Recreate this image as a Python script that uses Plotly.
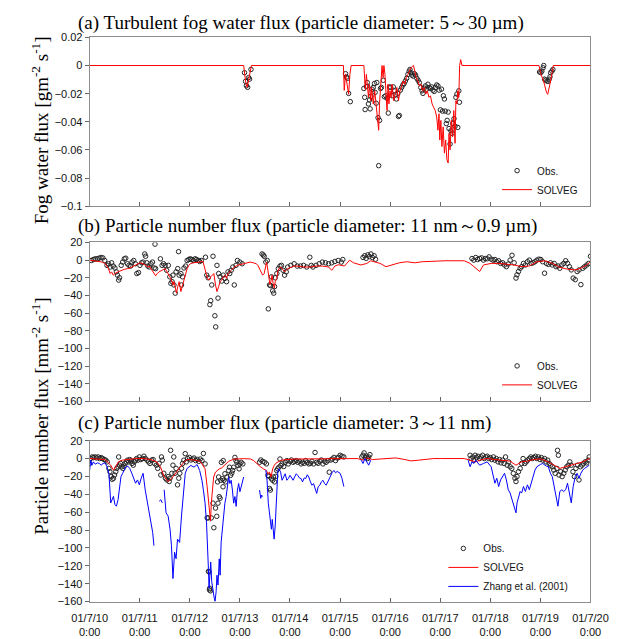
import plotly.graph_objects as go

W, H = 633, 639

# ---------------- data (time = hours since 01/7/10 0:00) ----------------
day_ticks = [0, 24, 48, 72, 96, 120, 144, 168, 192, 216, 240]
day_labels = ["01/7/10", "01/7/11", "01/7/12", "01/7/13", "01/7/14",
              "01/7/15", "01/7/16", "01/7/17", "01/7/18", "01/7/19", "01/7/20"]

# (a) fog water flux
a_obs_t = [74.2, 74.7, 75.1, 75.7, 76.2, 76.6, 77.3,
           122.6, 123.1, 123.5, 124.1, 124.9,
           131.4, 131.8, 132.0, 132.6, 133.0, 133.6, 134.1, 134.4, 134.8, 135.3, 135.9, 136.5, 136.8, 137.3,
           137.6, 138.2, 138.5, 138.9, 139.4, 139.8, 140.7, 141.2, 141.9, 142.5, 143.1, 143.7, 144.3, 144.9,
           145.5, 146.1, 146.6, 147.0, 147.7, 148.0, 148.4, 148.9, 149.5, 150.1, 150.7, 151.3, 151.9, 152.5,
           153.1, 153.5, 154.0, 154.4, 155.0, 155.6, 156.2, 156.8, 157.4, 158.0, 158.7, 159.3, 159.7, 160.3,
           160.9, 161.5, 162.1, 162.7, 163.3, 163.9, 164.5, 165.1, 165.7, 166.3, 166.9, 167.5, 168.1, 168.6,
           169.1, 169.5, 170.0, 170.4, 170.9, 171.3, 171.8, 172.2, 172.7, 173.1, 173.6, 174.0, 174.6, 175.1,
           175.5, 176.0, 176.4, 176.9, 177.2,
           215.6, 216.2, 216.7, 217.3, 217.6, 218.0, 218.5, 219.1, 219.7, 220.2, 220.6, 220.9, 221.5, 222.0]
a_obs_v = [-0.0051, -0.0113, -0.0144, -0.0155, -0.0086, -0.0097, -0.0028,
           -0.0058, -0.0082, -0.0091, -0.0198, -0.0257,
           -0.0163, -0.0226, -0.0313, -0.0149, -0.0121, -0.0273, -0.0245, -0.0308, -0.0219, -0.0168, -0.0156, -0.0128, -0.0191, -0.0268,
           -0.0121, -0.0371, -0.0712, -0.0390, -0.0163, -0.0156, -0.0105, -0.0222, -0.0215, -0.0233, -0.0338, -0.0152, -0.0156, -0.0215,
           -0.0152, -0.0180, -0.0208, -0.0238, -0.0198, -0.0362, -0.0355, -0.0175, -0.0156, -0.0138, -0.0128, -0.0110, -0.0091, -0.0063,
           -0.0040, -0.0028, -0.0051, -0.0068, -0.0075, -0.0058, -0.0068, -0.0091, -0.0105, -0.0121, -0.0156, -0.0180, -0.0198, -0.0161,
           -0.0145, -0.0168, -0.0133, -0.0156, -0.0163, -0.0152, -0.0175, -0.0184, -0.0156, -0.0138, -0.0145, -0.0175, -0.0315, -0.0168,
           -0.0324, -0.0215, -0.0238, -0.0324, -0.0413, -0.0390, -0.0331, -0.0448, -0.0558, -0.0464, -0.0483, -0.0413, -0.0378, -0.0432,
           -0.0226, -0.0203, -0.0440, -0.0180, -0.0261,
           -0.0046, -0.0050, -0.0040, -0.0016, 0.0000, -0.0097, -0.0104, -0.0110, -0.0113, -0.0097, -0.0080, -0.0051, -0.0040, -0.0028]

a_sol_t = [0, 73.8, 74.4, 74.9, 75.5, 76.0, 76.6, 77.1, 77.5,
           121.6, 122.0, 122.6, 123.5, 124.1, 124.7, 125.3, 131.4, 131.7, 132.1, 132.6, 133.2, 133.6, 134.1,
           134.7, 135.1, 135.9, 136.6, 137.4, 138.0, 138.5, 138.9, 139.4, 139.8, 140.1, 140.6, 141.0, 141.5,
           141.9, 142.5, 143.0, 143.4, 143.9, 144.5, 144.9, 145.7, 146.4, 147.2, 148.0, 148.7, 149.5, 150.2,
           151.0, 151.7, 152.5, 153.2, 154.0, 154.7, 155.2, 155.8, 156.5, 157.3, 158.0, 158.8, 159.5, 160.3,
           161.1, 161.8, 162.6, 163.3, 164.1, 164.8, 165.6, 166.3, 166.9, 167.4, 167.8, 168.3, 168.8, 169.4,
           170.0, 170.6, 171.2, 171.8, 172.2, 172.7, 173.3, 173.9, 174.5, 175.1, 175.5, 176.0, 176.4, 176.9,
           177.3, 177.8, 178.4,
           215.3, 215.8, 216.5, 217.3, 218.0, 218.9, 219.5, 220.2, 220.9, 221.7, 222.2, 240]
a_sol_v = [0, 0, -0.0074, -0.0130, -0.0155, -0.0110, -0.0074, -0.0016, 0,
           0, -0.0177, -0.0063, -0.0145, -0.0204, -0.0063, 0, 0, -0.0110, -0.0168, -0.0063, -0.0145, -0.0226, -0.0133,
           -0.0250, -0.0156, -0.0273, -0.0180, -0.0296, -0.0378, -0.0460, -0.0273, -0.0180, -0.0110, 0, -0.0086, 0, -0.0063,
           -0.0203, -0.0320, -0.0133, -0.0273, -0.0180, -0.0226, -0.0133, -0.0250, -0.0203, -0.0156, -0.0250, -0.0180, -0.0145, -0.0110,
           -0.0133, -0.0086, -0.0063, -0.0040, -0.0016, -0.0005, 0, -0.0040, -0.0086, -0.0110, -0.0145, -0.0133, -0.0180, -0.0156,
           -0.0203, -0.0180, -0.0226, -0.0215, -0.0273, -0.0296, -0.0320, -0.0366, -0.0460, -0.0343, -0.0530, -0.0390, -0.0576, -0.0436,
           -0.0623, -0.0530, -0.0670, -0.0693, -0.0483, -0.0600, -0.0390, -0.0506, -0.0320, -0.0553, -0.0250, -0.0273, -0.0180, -0.0226,
           0, 0.0042, 0,
           0, -0.0040, -0.0074, -0.0097, -0.0144, -0.0190, -0.0205, -0.0167, -0.0110, -0.0040, 0, 0]

# (b) particle number flux 11 nm - 0.9 um
b_obs_t = [0.8, 1.8, 2.7, 3.6, 4.5, 5.4, 6.3, 7.2, 8.3, 9.0, 9.8, 10.5, 11.3, 12.1, 12.8, 13.3, 13.9, 14.3,
           15.1, 15.8, 16.6, 17.3, 18.1, 18.8, 19.6, 20.3, 21.1, 21.9, 22.6, 23.4, 24.1, 24.9, 25.6, 26.4,
           26.8, 27.4, 27.9, 28.6, 29.4, 30.1, 30.9, 31.3, 31.6, 33.9, 34.7, 35.4, 36.2, 36.9, 37.7, 38.4,
           38.9, 39.5, 39.9, 40.4, 41.0, 41.4, 42.2, 42.6, 42.9, 43.7, 44.0, 44.5, 45.2, 46.0, 46.7, 47.5,
           48.2, 49.0, 49.7, 50.5, 51.2, 52.0, 52.7, 53.5, 55.5, 56.1, 56.8, 57.6, 58.0, 58.5, 59.1, 60.0,
           60.4, 61.0, 61.5, 61.8, 62.5, 63.3, 64.0, 64.8, 65.6, 66.3, 67.1, 67.8, 68.6, 69.3, 70.1, 70.8,
           72.0, 73.1, 82.6, 83.2, 83.6, 84.4, 85.1, 85.6, 86.2, 86.7, 87.1, 87.7, 88.2, 88.6, 88.9, 89.7,
           90.4, 91.2, 91.9, 92.7, 93.4, 94.2, 94.9, 96.4, 98.0, 99.5, 101.0, 102.5, 104.0, 105.5, 106.2,
           107.0, 108.5, 110.0, 111.5, 113.0, 114.5, 116.0, 117.5, 119.1, 120.6, 121.3,
           131.0, 131.8, 132.5, 133.3, 134.0, 134.8, 135.5, 136.3, 137.0,
           183.2, 184.1, 185.0, 185.9, 186.9, 187.8, 188.7, 189.6, 190.5, 191.4, 192.4, 193.3, 194.2, 195.1,
           196.0, 196.9, 197.9, 198.8, 199.7, 200.6, 201.5, 202.4, 203.4, 204.3, 204.8, 205.5, 206.3, 207.0,
           207.9, 208.8, 209.8, 210.7, 211.6, 212.5, 213.4, 214.3, 215.3, 216.2, 217.1, 218.0, 218.9, 219.8,
           220.8, 221.7, 222.6, 223.5, 224.4, 225.3, 226.3, 227.2, 228.1, 229.0, 229.9, 230.8, 231.7, 232.7,
           233.6, 234.5, 235.4, 236.3, 237.2, 238.2, 239.1, 240.0]
b_obs_v = [-0.4, 0.7, 1.5, 1.5, 2.2, 3.0, 2.6, -0.4, -5.9, -4.1, -7.8, -3.0, -6.7, -8.9, -13.3, -17.0, -22.6, -20.0,
           -5.9, -2.2, 1.5, 2.2, -4.1, -5.9, -6.7, -2.2, -0.4, -4.1, -15.2, -14.1, -5.9, -3.0, -2.2, 7.0,
           4.4, -3.0, -6.7, -7.8, -4.1, -2.2, -8.9, 18.1, -9.6, 1.5, -5.9, -4.1, -5.9, -11.5, -5.9, -18.9,
           -26.3, -24.4, -17.0, -28.1, -37.4, -13.3, -9.6, 9.6, -17.0, -15.2, -28.1, -18.9, -8.9, -6.7, -0.4, 0.7,
           1.5, 0.7, -0.4, 1.5, 0.7, -0.4, -1.5, -0.4, 3.3, -17.0, -20.0, -50.4, -45.9, -28.1, 4.4, -63.0,
           -75.6, -5.9, -43.0, -15.2, -18.9, -23.7, -17.0, -20.7, -24.4, -13.3, -15.2, -11.5, -7.8, -28.1, -5.9, -0.4,
           -2.2, -4.1, 7.0, 5.9, 4.4, -2.2, -0.4, -55.2, -28.1, -28.9, -18.9, -34.8, -37.4, -30.0, -20.0, -15.2,
           -9.6, -6.7, -5.9, -11.5, -17.0, -13.3, -7.8, -5.9, -4.1, -6.7, -6.7, -5.9, -7.8, 3.3, -5.9,
           -7.8, -5.9, -4.1, -2.2, -3.0, -4.1, -3.0, -1.5, -0.4, -2.2, 0.7,
           3.0, 5.0, 2.0, 6.0, 4.0, 7.0, 3.0, 5.0, 1.0,
           1.8, 0.0, 3.0, 0.7, 1.8, 2.6, 0.0, 1.8, 1.5, 3.7, 1.1, 0.0, 0.7, -1.8,
           -0.7, -3.7, -3.0, -5.5, -7.4, -4.4, 0.0, 5.5, -3.0, -20.3, -16.6, -12.9, -9.2, -7.4,
           -3.7, -5.5, -1.8, 0.0, -3.7, -3.0, -1.8, 0.0, 1.1, 0.7, -1.8, -14.8, -3.7, -4.8,
           -3.0, -5.5, -3.7, -7.4, -6.6, -9.2, -5.5, -3.7, -0.7, -3.7, -7.4, -11.1, -20.3, -22.1,
           -12.9, -11.1, -27.7, -9.2, -7.4, -5.5, -3.7, 4.4]

b_sol_t = [0, 6.0, 7.5, 9.0, 9.8, 10.5, 11.3, 12.1, 13.6, 15.1, 16.6, 18.1, 19.6, 21.1, 22.6, 24.1, 25.6,
           27.1, 27.9, 28.6, 29.4, 30.9, 31.6, 32.4, 33.2, 34.7, 36.2, 36.9, 37.7, 38.4, 39.2, 39.9, 40.4,
           41.0, 41.6, 42.2, 42.9, 43.7, 44.5, 45.2, 46.0, 46.7, 47.5, 48.2, 49.7, 51.2, 52.7, 54.3, 55.0,
           55.8, 56.5, 57.3, 58.0, 58.8, 59.5, 60.3, 61.0, 61.8, 62.5, 63.3, 64.0, 64.8, 65.6, 66.3, 67.1,
           67.8, 69.3, 70.8, 72.3, 73.8, 75.4, 76.9, 78.4, 79.9, 80.6, 81.4, 82.1, 82.9, 83.6, 84.1, 84.4,
           84.8, 85.4, 85.9, 86.4, 87.0, 87.4, 87.9, 88.5, 88.9, 89.7, 90.1, 90.7, 91.6, 92.7, 93.4, 94.9,
           96.4, 98.0, 99.5, 102.5, 105.5, 108.5, 111.5, 114.5, 116.0, 117.5, 119.1, 120.6, 122.1,
           124.6, 126.4, 130.0, 132.8, 134.7, 136.5, 139.2, 142.0, 144.7, 148.4, 152.0, 155.7, 159.4, 163.0,
           166.7, 170.4, 175.9, 179.5, 182.3, 185.0, 186.9, 188.7, 192.4, 196.0, 199.7, 203.4, 207.0, 210.7,
           214.4, 218.0, 221.7, 225.3, 229.0, 232.7, 235.4, 238.2, 240.0]
b_sol_v = [0, -2.2, -4.1, -9.6, -15.2, -13.3, -17.0, -15.2, -13.3, -11.5, -10.4, -9.6, -8.9, -6.7, -5.2, -3.0, -4.1,
           -5.9, -7.8, -6.7, -9.6, -15.2, -17.8, -15.2, -13.3, -11.5, -9.6, -12.6, -15.2, -18.9, -22.6, -28.1, -24.4,
           -31.9, -37.4, -30.0, -24.4, -35.6, -28.1, -20.7, -15.2, -9.6, -5.9, -4.1, -3.0, -2.2, -2.2, -1.5, -9.6,
           -15.2, -20.7, -22.6, -18.9, -17.0, -15.2, -28.1, -35.6, -30.0, -24.4, -22.6, -18.9, -17.0, -20.7, -15.2, -13.3,
           -11.5, -7.8, -5.9, -5.2, -4.1, -3.0, -2.2, -3.0, -4.1, -5.9, -9.6, -13.3, -17.0, -15.2, -9.6, -5.9,
           -2.2, -11.5, -18.9, -28.1, -22.6, -17.0, -26.3, -31.9, -24.4, -20.7, -13.3, -9.6, -7.8, -11.5, -13.3, -9.6,
           -7.8, -6.7, -6.7, -7.8, -7.8, -6.7, -6.7, -7.8, -11.5, -6.7, -5.2, -5.9, -6.7,
           0.0, -3.0, -5.5, -3.7, -0.7, -1.8, -3.7, -7.4, -5.5, -3.0, -1.8, -3.0, -1.8, -1.1,
           -1.1, -0.7, -0.7, -0.7, -3.7, -9.2, -12.9, -5.5, -3.7, -3.7, -4.4, -5.5, -7.4, -6.6,
           -1.8, -0.7, -3.7, -8.1, -10.3, -11.0, -9.2, -5.5, -1.8]

# (c) particle number flux 3 - 11 nm
c_obs_t = [0.0, 0.5, 1.3, 1.8, 2.6, 3.3, 4.0, 4.8, 5.5, 6.2, 7.0, 7.7, 8.4, 9.2, 9.7, 10.3, 10.8, 11.4,
           11.9, 12.5, 13.0, 13.6, 13.9, 14.3, 14.8, 15.4, 15.9, 16.5, 17.0, 17.6, 18.1, 18.7, 19.2, 19.8,
           20.3, 20.9, 21.4, 22.0, 22.5, 23.1, 23.8, 24.5, 25.3, 26.0, 26.7, 27.5, 28.2, 28.9, 29.7, 30.4,
           31.1, 31.9, 32.6, 33.3, 34.1, 34.4, 34.8, 35.5, 36.3, 37.0, 37.6, 38.1, 38.5, 38.8, 39.4, 39.9,
           40.3, 40.9, 41.4, 42.1, 42.7, 43.2, 44.0, 44.5, 45.1, 45.8, 46.3, 46.9,
           47.8, 48.5, 49.3, 50.0, 50.8, 51.5, 52.3, 53.0, 53.8, 54.5, 55.3, 56.3, 56.8, 56.9, 57.2, 57.4,
           57.5, 57.9, 58.3, 59.1, 59.5, 60.3, 60.9, 61.3, 61.5, 61.8, 62.1, 62.5, 62.8, 63.1, 63.6, 63.9,
           64.0, 64.3, 64.8, 65.1, 65.8, 66.6, 67.0, 67.5, 68.1, 68.5, 69.0, 69.6, 70.1, 70.5, 71.1, 71.6,
           72.0, 72.6, 73.4,
           81.4, 82.0, 82.9, 83.9, 84.7, 85.4, 85.9, 86.2, 86.6, 87.1, 87.7, 88.1, 88.6, 89.2, 89.6, 90.1,
           90.7, 91.2, 91.6, 92.2, 93.0, 93.7, 94.5, 95.2, 96.0, 96.7, 97.5, 98.2, 99.0, 99.7, 100.5, 101.3,
           102.0, 102.8, 103.5, 104.3, 105.0, 105.8, 106.5, 107.3, 108.0, 108.8, 109.5, 110.3, 111.0, 111.8,
           112.6, 113.3, 114.1, 114.8, 115.6, 116.3, 117.1, 117.8, 118.6, 119.3, 120.0, 120.9, 121.8,
           130.4, 131.0, 131.5, 132.1, 132.6, 133.2, 133.7, 134.3,
           182.3, 182.8, 183.6, 184.1, 184.7, 185.4, 186.1, 186.9, 187.6, 188.3, 189.1, 189.8, 190.5, 191.3,
           192.0, 192.7, 193.5, 194.2, 194.9, 195.7, 196.4, 197.1, 197.9, 198.6, 199.3, 200.1, 200.8, 201.5,
           202.3, 203.0, 203.8, 204.3, 204.8, 205.5, 206.3, 207.0, 207.7, 208.5, 209.2, 209.9, 210.7, 211.4,
           212.1, 212.9, 213.6, 214.3, 215.1, 215.8, 216.5, 217.3, 218.0, 218.7, 219.5, 220.2, 220.9, 221.7,
           222.4, 223.1, 223.9, 224.2, 224.6, 224.9, 225.7, 226.4, 227.2, 227.9, 228.6, 229.4, 230.1, 230.8,
           231.6, 232.3, 233.0, 233.8, 234.5, 235.2, 236.0, 236.7, 237.4, 238.2, 238.9, 239.4]
c_obs_v = [-5.5, 0.0, 1.8, 1.1, 1.8, 0.7, 1.8, 0.0, 1.1, 0.0, -1.1, -1.8, -3.7, -11.0, -14.7, -20.2, -23.2, -22.0,
           -18.4, -14.7, -11.0, -9.2, 1.8, -7.4, -5.5, -9.2, -11.0, -8.5, -5.5, -3.7, -1.8, -3.7, -1.1, -2.6,
           -5.5, -7.4, -3.7, -1.8, 0.0, -1.8, 1.8, -1.1, 0.0, 2.6, 0.0, -1.8, -3.7, -5.5, -1.8, -1.1,
           -5.5, -7.4, -11.0, -5.5, -18.4, 1.8, -1.8, -16.5, -22.0, -23.9, -20.2, -25.7, -22.0, 9.2, -16.5, -7.4,
           1.8, -16.5, -11.0, -29.4, -22.0, -16.5, -11.0, -5.5, -1.8, 5.5, -3.7, 0.0,
           1.3, -1.6, -0.5, 0.6, -2.3, -0.9, -3.1, -0.5, -2.3, 5.7, -6.0, -66.4, -66.4, -126.1, -126.8, -146.9,
           -145.1, -148.0, -66.4, -49.9, -77.4, -55.4, -64.6, -26.1, -49.9, -20.6, -42.6, -44.4, -24.3, -4.2, -22.5, -31.6,
           -2.3, -24.3, -17.0, -26.1, -20.6, -13.3, -9.7, -18.8, -16.3, -13.3, -9.7, 1.3, -2.3, -4.2, -7.8, -11.5,
           -6.0, -4.2, -6.0,
           -4.2, -1.6, -3.1, -4.2, -6.0, -18.8, -19.9, -33.5, -35.3, -22.5, -24.3, -20.6, -26.1, -19.9, -13.3, -11.5,
           -9.7, -0.5, -7.8, -6.0, -8.9, -4.2, -2.3, -6.0, -3.1, -1.6, -4.2, -3.1, -2.3, -4.2, -3.1, -6.0,
           -4.2, -5.3, -2.3, -4.2, -6.0, -5.3, -3.1, -6.0, 6.8, -4.2, -5.3, -3.1, -1.6, -6.0,
           -3.1, -4.2, -2.3, -15.2, -1.6, -0.5, 1.3, -2.3, 0.6, 1.3, 3.7, 2.6, 1.8,
           1.8, 3.7, 6.3, 1.1, 2.6, 0.0, 1.8, 4.4,
           3.7, 0.0, 1.8, -1.8, 3.7, 1.1, 2.6, 0.0, 1.8, 3.7, 0.0, 1.8, 2.6, 0.0,
           1.1, -1.1, 1.8, -1.8, 0.0, -3.7, -1.1, -4.8, -1.8, -5.5, 1.8, -7.4, -3.7, -9.2,
           -11.0, -16.5, -22.0, -25.7, -20.2, -14.7, -11.0, -5.5, 0.0, -5.5, -3.7, -1.8, 0.0, 1.8,
           0.0, 1.1, 2.6, 0.0, 1.8, -1.1, 1.1, -1.8, 0.0, -3.7, -1.8, -5.5, -7.4, -9.2,
           -12.9, -16.5, -11.0, 9.2, 3.7, -18.4, -14.7, -20.2, -16.5, -12.9, -9.2, -7.4, -3.7, -7.4,
           -14.7, -20.2, -11.0, -7.4, -23.9, -9.2, -7.4, -5.5, -3.7, -4.8, -1.8, 1.8]

c_sol_t = [0, 7.3, 10.1, 11.4, 12.5, 13.7, 15.6, 18.3, 22.0, 25.6, 29.3, 32.1, 33.9, 35.7, 37.6, 39.4,
           41.2, 43.1, 44.9, 46.7, 50.0, 53.0, 55.3, 56.3, 57.2, 57.9, 58.3, 58.8, 59.4, 60.3, 61.3, 62.1,
           63.3, 64.3, 65.1, 65.8, 66.6, 68.1, 69.6, 74.1, 77.1, 78.6, 80.2, 81.7, 83.2, 84.7, 85.4, 86.2,
           86.9, 87.7, 88.4, 89.2, 90.7, 92.2, 98.2, 107.3, 119.3, 124.6, 128.2, 131.0, 132.8, 135.6, 139.2,
           142.9, 146.6, 150.2, 153.9, 157.6, 161.2, 164.9, 168.5, 172.2, 175.9, 179.5, 182.3, 185.0, 187.8,
           190.5, 194.2, 197.9, 201.5, 204.3, 207.0, 209.8, 212.5, 216.2, 219.8, 222.6, 225.3, 229.0, 232.7,
           236.3, 239.4, 240.0]
c_sol_v = [0, -1.1, -7.4, -12.9, -9.2, -3.7, -1.8, -1.1, 0.0, 0.0, -1.1, -3.7, -9.2, -20.2, -25.7, -22.0,
           -16.5, -11.0, -4.8, -1.1, -1.6, -3.1, -11.5, -31.6, -49.9, -70.0, -49.9, -31.6, -20.6, -15.2, -13.3, -11.5,
           -10.4, -7.9, -6.0, -4.2, -3.1, -1.6, -0.5, -0.1, -0.5, -2.3, -6.0, -8.9, -11.5, -13.3, -17.0, -15.2,
           -20.6, -11.5, -7.9, -5.3, -3.1, -1.6, -0.5, -0.5, -0.5, 0.0, 0.0, -1.8, 0.7, -1.1, -0.7,
           0.0, 0.7, -0.7, -2.6, -1.8, -0.7, 0.0, 0.0, 0.0, 0.0, 0.0, -1.8, -3.7, -1.1,
           0.0, -1.1, -1.8, -2.9, -7.4, -3.7, -2.9, -1.1, -0.4, -3.7, -7.4, -11.0, -8.5, -6.3,
           -3.7, 0.0, 0.0]

c_zh_t = [0.0, 0.5, 1.1, 1.8, 2.7, 3.7, 4.6, 5.5, 6.4, 7.3, 8.2, 9.2, 10.1, 10.6, 11.4, 12.1, 12.8, 13.6,
          14.3, 15.0, 15.8, 16.5, 17.4, 18.3, 19.2, 20.2, 21.1, 22.0, 22.9, 23.8, 24.7, 25.6, 26.6, 27.5,
          28.4, 29.3, 30.2, 30.8, 32.0, 33.3, 34.1, 34.8, 35.2, 35.7, 36.6, 37.6, 38.5, 39.2, 39.9, 40.7, 41.4,
          42.1, 43.1, 44.0, 44.9, 45.8, 46.7, 48.5, 50.0, 51.5, 52.7, 53.8, 54.5, 55.3, 56.0, 56.5, 56.9,
          57.2, 57.5, 58.0, 58.5, 59.1, 59.7, 60.1, 60.6, 61.0, 61.5, 62.1, 62.5, 63.0, 63.6, 64.2, 64.8,
          65.4, 66.0, 66.6, 67.2, 67.8, 68.4, 69.0, 69.6, 70.2, 70.8, 71.4, 72.0, 72.6, 73.2, 73.8, 77.0,
          81.4, 82.0, 82.4, 82.9, 83.6, 84.4, 85.0, 85.6, 86.2, 86.6, 87.1, 87.5, 88.0, 88.4, 88.9, 89.3,
          89.8, 90.2, 90.7, 91.5, 92.2, 93.0, 93.7, 94.5, 95.2, 96.0, 96.7, 97.5, 98.2, 99.0, 99.7, 100.5,
          101.3, 102.0, 102.8, 103.5, 104.3, 105.0, 105.8, 106.5, 107.3, 108.0, 108.8, 109.5, 110.3, 111.0,
          111.8, 112.6, 113.3, 114.1, 114.8, 115.6, 116.3, 117.1, 117.8, 118.6, 119.3, 120.0, 120.9, 121.8,
          126.0, 130.1, 131.0, 131.9, 132.8, 133.7, 134.7, 160.0,
          181.4, 182.3, 183.2, 184.1, 185.0, 186.9, 188.7, 190.5, 192.4, 194.2, 195.1, 196.0, 196.9, 197.9,
          198.8, 199.7, 200.6, 201.5, 202.4, 203.4, 204.3, 204.8, 205.5, 206.3, 207.0, 207.9, 208.8, 209.8,
          210.7, 211.6, 212.5, 213.4, 214.3, 215.3, 216.2, 217.1, 218.0, 218.9, 219.8, 220.8, 221.7, 222.6,
          223.5, 224.4, 225.3, 226.3, 227.2, 228.1, 229.0, 229.9, 230.8, 231.7, 232.7, 233.6, 234.5, 235.4,
          236.3, 237.2, 238.2, 239.4]
c_zh_v = [-12.9, -1.8, -7.4, -3.7, -6.3, -4.8, -5.5, -7.4, -5.5, -4.8, -8.5, -16.5, -49.6, -46.0, -42.3, -51.5, -53.3, -46.0,
          -31.3, -20.2, -16.5, -12.9, -9.2, -8.5, -11.0, -16.5, -22.0, -27.6, -23.9, -29.4, -22.0, -16.5, -34.9, -46.0,
          -60.7, -68.0, -82.7, -97.4, None, -47.8, -46.0, -49.6, None, -34.9, -60.7, -64.3, -79.0, -97.4, -134.2, -104.8, -112.1,
          -90.1, -93.8, -64.3, -38.6, -16.5, -11.0, -7.7, -9.6, -6.7, -13.3, -24.3, -35.3, -49.9, -71.9, -93.8, -123.1,
          -145.1, -130.5, -115.8, -137.8, -148.8, -156.1, -159.8, -148.8, -130.5, -141.5, -112.2, -130.5, -93.8, -79.1, -60.8, -49.9,
          -42.5, -31.6, -20.6, -27.9, -24.3, -35.3, -49.9, -42.5, -53.5, -35.3, -27.9, -37.1, -31.6, -24.3, -20.6, None,
          -35.3, -44.5, -40.8, -42.6, None, -13.0, -24.3, -49.9, -60.8, -64.5, -79.1, -68.1, -86.4, -90.1, -75.5, -49.9,
          -31.6, -13.3, -11.5, -15.2, -24.3, -20.6, -17.0, -24.3, -22.4, -18.8, -21.7, -24.3, -20.6, -17.0, -18.8, -21.7,
          -22.4, -26.1, -21.7, -22.4, -18.1, -20.6, -26.1, -29.8, -28.0, -33.5, -39.0, -31.6, -29.8, -26.1,
          -24.3, -28.0, -29.8, -26.1, -22.4, -18.8, -15.2, -13.3, -15.9, -14.4, -15.2, -16.5, -22.0, -31.3,
          None, -1.8, -5.5, 0.0, -3.7, -7.4, -1.8, None,
          -1.8, -9.2, -3.7, -5.5, -1.8, -7.4, -5.5, -3.7, -9.2, -27.6, -22.0, -31.3, -23.9, -20.2,
          -16.5, -23.9, -34.9, -38.6, -46.0, -53.3, -60.7, -49.6, -42.3, -36.8, -38.6, -31.3, -36.8, -29.4,
          -34.9, -27.6, -20.2, -12.9, -9.2, -7.4, -6.3, -5.5, -7.4, -8.5, -9.2, -16.5, -20.2, -31.3,
          -38.6, -53.3, -36.8, -34.9, -36.8, -34.9, -27.6, -36.8, -49.6, -31.3, -20.2, -16.5, -22.0, -16.5,
          -12.9, -11.0, -9.2, -7.4]

# ---------------- figure ----------------
def px_x(p):
    return p / W

def px_y(p):
    return 1 - p / H

RED = "rgb(255,0,0)"
BLUE = "rgb(0,0,255)"
OBS = "#262626"
SANS = "Liberation Sans, Arial, sans-serif"
SERIF = "Liberation Serif, Times New Roman, serif"

fig = go.Figure()

def add_panel(n, obs_t, obs_v, sol_t, sol_v, legend, zh=None):
    xa = "x" if n == 1 else f"x{n}"
    ya = "y" if n == 1 else f"y{n}"
    fig.add_trace(go.Scatter(x=obs_t, y=obs_v, mode="markers", name="Obs.",
                             marker=dict(symbol="circle-open", size=4.5, color=OBS, line=dict(width=1)),
                             xaxis=xa, yaxis=ya, legend=legend))
    fig.add_trace(go.Scatter(x=sol_t, y=sol_v, mode="lines", name="SOLVEG",
                             line=dict(color=RED, width=1), xaxis=xa, yaxis=ya, legend=legend))
    if zh is not None:
        fig.add_trace(go.Scatter(x=zh[0], y=zh[1], mode="lines", name="Zhang et al. (2001)",
                                 line=dict(color=BLUE, width=1), xaxis=xa, yaxis=ya, legend=legend,
                                 connectgaps=False))

add_panel(1, a_obs_t, a_obs_v, a_sol_t, a_sol_v, "legend")
add_panel(2, b_obs_t, b_obs_v, b_sol_t, b_sol_v, "legend2")
add_panel(3, c_obs_t, c_obs_v, c_sol_t, c_sol_v, "legend3", zh=(c_zh_t, c_zh_v))

xdom = [px_x(76), px_x(607)]
panels = {1: (32, 204), 2: (241, 403), 3: (443, 607)}

def fmt(v):
    s = ("%g" % v)
    return s.replace("-", "\u2212")

a_ticks = [0.02, 0, -0.02, -0.04, -0.06, -0.08, -0.1]
bc_ticks = [20, 0, -20, -40, -60, -80, -100, -120, -140, -160]

axis_common = dict(showgrid=False, zeroline=False, showline=True, linecolor="#8c8c8c", linewidth=1,
                   mirror=True)

layout = dict(width=W, height=H, margin=dict(l=0, r=0, t=0, b=0),
              paper_bgcolor="white", plot_bgcolor="white", showlegend=True)

for n, (top, bot) in panels.items():
    xs = "xaxis" if n == 1 else f"xaxis{n}"
    ys = "yaxis" if n == 1 else f"yaxis{n}"
    yanchor = "y" if n == 1 else f"y{n}"
    xanchor_ = "x" if n == 1 else f"x{n}"
    layout[xs] = dict(domain=xdom, anchor=yanchor, range=[0, 240], tickvals=day_ticks,
                      ticktext=[f"{d}<br>0:00" for d in day_labels],
                      showticklabels=(n == 3), ticks="inside", ticklen=4, tickcolor="#666",
                      ticklabelstandoff=6,
                      tickfont=dict(family=SANS, size=11, color="#111"), **axis_common)
    if n == 1:
        tv, rng = a_ticks, [-0.1, 0.02]
    else:
        tv, rng = bc_ticks, [-160, 20]
    layout[ys] = dict(domain=[px_y(bot), px_y(top)], anchor=xanchor_, range=rng, tickvals=tv,
                      ticktext=[fmt(v) for v in tv], ticks="outside", ticklen=4, tickcolor="#666",
                      tickfont=dict(family=SANS, size=11, color="#111"), **axis_common)

leg_common = dict(xanchor="left", yanchor="top", bgcolor="rgba(0,0,0,0)", borderwidth=0,
                  font=dict(family=SANS, size=10, color="#111"), tracegroupgap=0, itemwidth=30)
layout["legend"] = dict(x=px_x(508), y=px_y(153), **leg_common)
layout["legend2"] = dict(x=px_x(508), y=px_y(352), **leg_common)
layout["legend3"] = dict(x=px_x(451), y=px_y(538), **leg_common)

titles = [
    ("(a) Turbulent fog water flux (particle diameter: 5\uff5e30 \u00b5m)", 17),
    ("(b) Particle number flux (particle diameter: 11 nm\uff5e0.9 \u00b5m)", 224),
    ("(c) Particle number flux (particle diameter: 3\uff5e11 nm)", 425),
]
ann = []
for txt, yy in titles:
    ann.append(dict(text=txt, xref="paper", yref="paper", x=px_x(61), y=px_y(yy),
                    xanchor="left", yanchor="middle", showarrow=False,
                    font=dict(family=SERIF, size=19, color="black")))
ann.append(dict(text="Fog water flux [gm<sup>-2</sup> s<sup>-1</sup>]", xref="paper", yref="paper",
                x=px_x(23), y=px_y(127), xanchor="center", yanchor="middle", textangle=-90,
                showarrow=False, font=dict(family=SERIF, size=19, color="black")))
ann.append(dict(text="Particle number flux [mm<sup>-2</sup> s<sup>-1</sup>]", xref="paper", yref="paper",
                x=px_x(24), y=px_y(418), xanchor="center", yanchor="middle", textangle=-90,
                showarrow=False, font=dict(family=SERIF, size=19, color="black")))
layout["annotations"] = ann

fig.update_layout(**layout)
fig.write_html("out.html")
